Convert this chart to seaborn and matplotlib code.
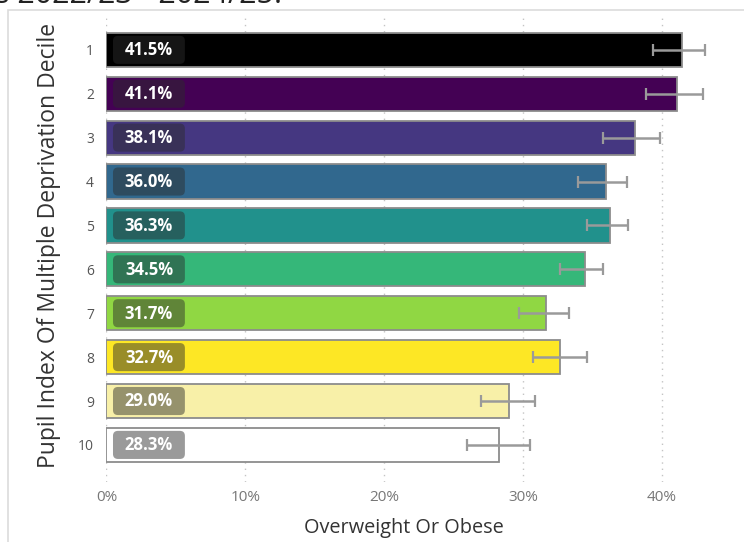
import numpy as np
import pandas as pd
import matplotlib
matplotlib.use("Agg")
import matplotlib.pyplot as plt
from matplotlib.patches import FancyBboxPatch, Rectangle
import seaborn as sns

# Overweight or obese prevalence by pupil IMD decile, with 95% confidence limits
deciles = ["1", "2", "3", "4", "5", "6", "7", "8", "9", "10"]
prevalence = [41.5, 41.1, 38.1, 36.0, 36.3, 34.5, 31.7, 32.7, 29.0, 28.3]
lower_ci = [39.4, 38.9, 35.8, 34.0, 34.6, 32.7, 29.7, 30.7, 27.0, 26.0]
upper_ci = [43.1, 43.0, 39.9, 37.5, 37.6, 35.8, 33.3, 34.6, 30.9, 30.5]
bar_colors = ["#000000", "#440154", "#453781", "#31688e", "#21918c",
              "#35b779", "#90d743", "#fde725", "#f8f0a8", "#ffffff"]
x_ticks = [0, 10, 20, 30, 40]
x_tick_labels = ["0%", "10%", "20%", "30%", "40%"]
title_text = "s 2022/23 - 2024/25."

df = pd.DataFrame({"decile": deciles, "prevalence": prevalence,
                   "lower": lower_ci, "upper": upper_ci})

sns.set_theme(style="white")
plt.rcParams["font.family"] = ["Open Sans", "DejaVu Sans"]

fig = plt.figure(figsize=(7.44, 5.42), dpi=100)
ax = fig.add_axes([0.1431, 0.1107, 0.8395, 0.856])

sns.barplot(data=df, x="prevalence", y="decile", hue="decile",
            palette=bar_colors, order=deciles, hue_order=deciles,
            orient="h", width=0.78, edgecolor="#8c8c8c", linewidth=1.3,
            legend=False, ax=ax, saturation=1, errorbar=None)

pos = np.arange(len(deciles))
vals = df["prevalence"].to_numpy()
xerr = [vals - df["lower"].to_numpy(), df["upper"].to_numpy() - vals]
ax.errorbar(vals, pos, xerr=xerr, fmt="none", ecolor="#9a9a9a",
            elinewidth=1.8, capsize=4.6, capthick=1.6, zorder=5)

# value badges at the start of each bar
for p, v in zip(pos, vals):
    badge = FancyBboxPatch((0.47, p - 0.32), 5.18, 0.64,
                           boxstyle="round,pad=0,rounding_size=0.36",
                           mutation_aspect=0.316, facecolor="#2c2c2c",
                           alpha=0.48, edgecolor="none", zorder=6)
    ax.add_patch(badge)
    ax.text(3.06, p + 0.01, f"{v:.1f}%", ha="center", va="center",
            color="white", fontsize=12, fontweight="bold", zorder=7)

ax.set_xlim(0, 45)
ax.set_ylim(9.845, -0.724)
ax.set_xticks(x_ticks)
ax.set_xticklabels(x_tick_labels)
ax.tick_params(axis="x", length=0, pad=6, labelsize=11, labelcolor="#777777")
ax.tick_params(axis="y", length=0, pad=9, labelsize=10, labelcolor="#555555")
ax.grid(axis="x", linestyle=(0, (1, 3.5)), color="#c4c4c4", linewidth=1)
ax.set_axisbelow(True)
for s in ax.spines.values():
    s.set_visible(False)

ax.set_xlabel("Overweight Or Obese", fontsize=14.3, color="#333333")
ax.set_ylabel("Pupil Index Of Multiple Deprivation Decile", fontsize=16.5,
              color="#333333")
ax.xaxis.set_label_coords(0.476, -0.078)
ax.yaxis.set_label_coords(-0.072, 0.51)

# panel frame and clipped heading above it
fig.patches.append(Rectangle((8 / 744, -0.1), 1.2, (532 / 542) + 0.1,
                             transform=fig.transFigure, fill=False,
                             edgecolor="#dcdcdc", linewidth=1.2, zorder=0))
fig.text(-0.007, 539 / 542, title_text, fontsize=22, color="#222222",
         ha="left", va="baseline")

fig.savefig("out.png", dpi=100)
